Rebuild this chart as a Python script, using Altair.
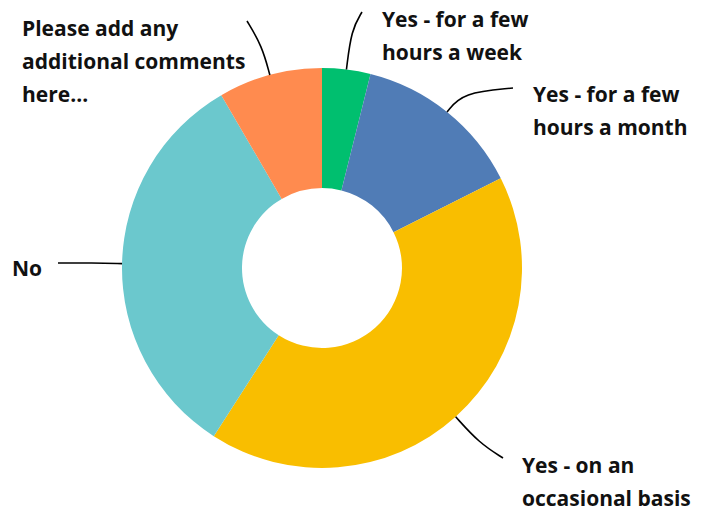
import math
import altair as alt
import pandas as pd

categories = [
    "Yes - for a few hours a week",
    "Yes - for a few hours a month",
    "Yes - on an occasional basis",
    "No",
    "Please add any additional comments here...",
]
values = [3.9, 13.7, 41.5, 32.5, 8.4]
label_lines = [
    ["Yes - for a few", "hours a week"],
    ["Yes - for a few", "hours a month"],
    ["Yes - on an", "occasional basis"],
    ["No"],
    ["Please add any", "additional comments", "here..."],
]
colors = ["#00BF6F", "#507CB6", "#F9BE00", "#6BC8CD", "#FF8B4F"]

# layout
W, H = 701, 512
CX, CY = 322, 268
R_OUT, R_IN = 200, 80
label_pos = [(382, 27), (533, 102), (522, 473), (12, 276), (22, 36)]
leader_end = [(362, 12), (513, 88), (503, 458), (58, 263), (247, 21)]
leader_mid_r = [240, 225, 235, 230, 230]

total = sum(values)
arc_df = pd.DataFrame({"cat": categories, "value": values, "idx": list(range(len(values)))})

line_rows = []
text_rows = []
cum = 0.0
for i, v in enumerate(values):
    mid = (cum + v / 2) / total * 2 * math.pi
    cum += v
    sx, sy = CX + R_OUT * math.sin(mid), CY - R_OUT * math.cos(mid)
    mx, my = CX + leader_mid_r[i] * math.sin(mid), CY - leader_mid_r[i] * math.cos(mid)
    ex, ey = leader_end[i]
    for k, (px, py) in enumerate([(sx, sy), (mx, my), (ex, ey)]):
        line_rows.append({"cat": categories[i], "k": k, "px": px, "py": py})
    text_rows.append({"cat": categories[i], "label": "\n".join(label_lines[i]),
                      "px": label_pos[i][0], "py": label_pos[i][1]})

line_df = pd.DataFrame(line_rows)
text_df = pd.DataFrame(text_rows)

xs = alt.Scale(domain=[0, W], range=[0, W])
ys = alt.Scale(domain=[0, H], range=[0, H])

arcs = alt.Chart(arc_df).mark_arc(innerRadius=R_IN, outerRadius=R_OUT).encode(
    theta=alt.Theta("value:Q", stack=True),
    order=alt.Order("idx:Q"),
    color=alt.Color("cat:N", scale=alt.Scale(domain=categories, range=colors), legend=None),
    x=alt.value(CX),
    y=alt.value(CY),
)

leaders = alt.Chart(line_df).mark_line(color="black", strokeWidth=1.6, interpolate="basis").encode(
    x=alt.X("px:Q", scale=xs, axis=None),
    y=alt.Y("py:Q", scale=ys, axis=None),
    detail="cat:N",
    order="k:Q",
)

labels = alt.Chart(text_df).mark_text(
    align="left", baseline="alphabetic", font="Open Sans", fontSize=21,
    fontWeight="bold", lineHeight=33, lineBreak="\n", color="#111111",
).encode(
    x=alt.X("px:Q", scale=xs, axis=None),
    y=alt.Y("py:Q", scale=ys, axis=None),
    text="label:N",
)

chart = alt.layer(arcs, leaders, labels).properties(
    width=W, height=H, autosize=alt.AutoSizeParams(type="none"), padding=0,
).configure_view(stroke=None)

chart.save("out.html", embed_options={"renderer": "svg", "actions": False})
